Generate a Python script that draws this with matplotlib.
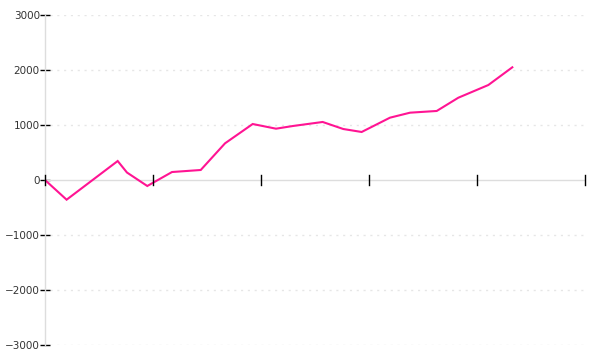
import matplotlib
matplotlib.use("Agg")
import matplotlib.pyplot as plt

# positions along the x axis (one unit = one tick step) and values
posicoes = [0.0, 0.20, 0.673, 0.759, 0.947, 1.176, 1.442, 1.667, 1.923, 2.139,
            2.296, 2.571, 2.762, 2.932, 3.194, 3.380, 3.627, 3.827, 4.105, 4.327]
valores = [0, -358, 345, 136, -109, 145, 182, 667, 1018, 933,
           982, 1055, 927, 873, 1133, 1224, 1255, 1496, 1727, 2049]
ticks_y = [-3000, -2000, -1000, 0, 1000, 2000, 3000]
ticks_x = [0, 1, 2, 3, 4, 5]

fig = plt.figure(figsize=(6, 3.6), dpi=100)
ax = fig.add_axes([45 / 600, 15 / 360, 540 / 600, 330 / 360])

# grade pontilhada
for v in ticks_y:
    if v == 0:
        continue
    ax.plot([0.05, 5], [v, v], color="#e6e6e6", lw=1, ls=(0, (1.5, 3.4)),
            zorder=1)

ax.plot(posicoes, valores, color="#ff1493", lw=1.5, zorder=3,
        solid_joinstyle="miter")

ax.set_xlim(0, 5)
ax.set_ylim(-3000, 3000)

for s in ["top", "right", "bottom"]:
    ax.spines[s].set_visible(False)
ax.spines["left"].set_color("#dddddd")
ax.spines["left"].set_linewidth(1)

# eixo x passando no zero
ax.axhline(0, color="#dddddd", lw=1, zorder=2)
for t in ticks_x:
    ax.plot([t, t], [-90, 90], color="black", lw=1, zorder=4, clip_on=False)
ax.set_xticks([])

ax.set_yticks(ticks_y)
ax.set_yticklabels([str(v).replace("-", "\u2212") for v in ticks_y])
ax.tick_params(axis="y", direction="inout", length=6.5, width=1,
               colors="black", labelcolor="#333333", labelsize=7.5, pad=0.5)

fig.savefig("out.png", dpi=100)
